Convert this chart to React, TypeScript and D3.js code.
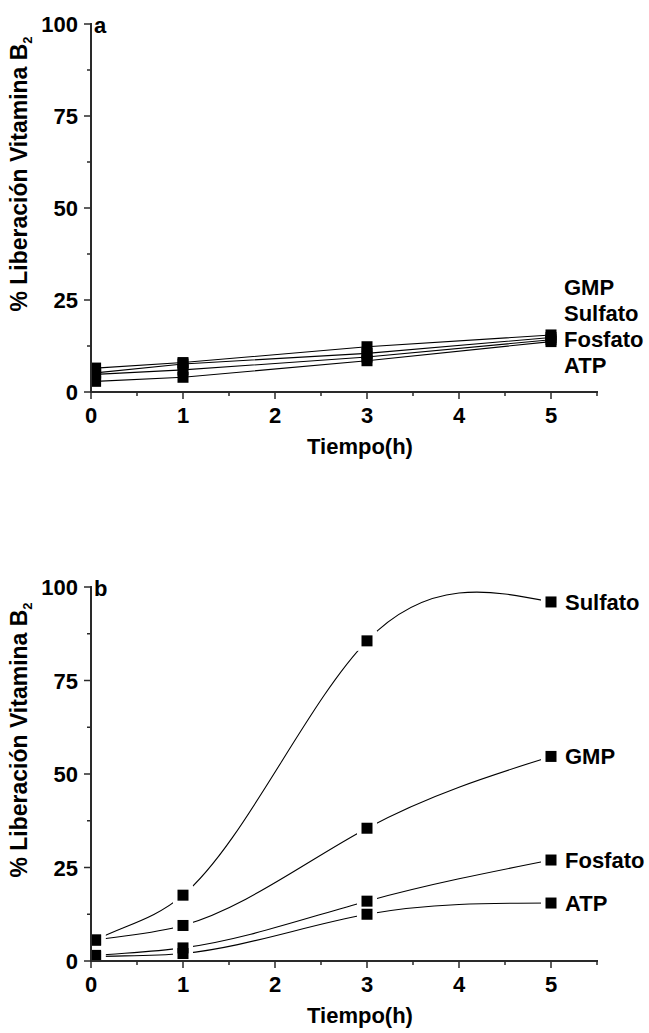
import React from "react";
import * as d3 from "d3";

const times = [0.05, 1, 3, 5];
const seriesNames = ["GMP", "Sulfato", "Fosfato", "ATP"];

// Panel a
const aGMP = [6.5, 8.0, 12.3, 15.5];
const aSulfato = [5.2, 7.6, 10.5, 14.8];
const aFosfato = [4.8, 6.0, 9.5, 14.2];
const aATP = [2.9, 4.0, 8.5, 13.7];

// Panel b
const bGMP = [5.6, 9.5, 35.5, 54.7];
const bSulfato = [5.6, 17.6, 85.6, 96.0];
const bFosfato = [1.5, 3.5, 16.0, 27.0];
const bATP = [1.2, 2.0, 12.5, 15.5];

const xTicks = [0, 1, 2, 3, 4, 5];
const yTicks = [0, 25, 50, 75, 100];
const xTitle = "Tiempo(h)";

const FONT = "'Liberation Sans', Arial, sans-serif";
const AX = "#2a2a2a";

type Series = { name: string; values: number[] };

// Cubic spline curve for d3.line: clamped (secant) start, natural end.
function curveSpline(context: any) {
  let xs: number[] = [];
  let ys: number[] = [];
  return {
    areaStart() {},
    areaEnd() {},
    lineStart() {
      xs = [];
      ys = [];
    },
    point(x: number, y: number) {
      xs.push(+x);
      ys.push(+y);
    },
    lineEnd() {
      const n = xs.length;
      if (n === 0) return;
      context.moveTo(xs[0], ys[0]);
      if (n === 1) return;
      const h: number[] = [];
      const dl: number[] = [];
      for (let i = 0; i < n - 1; i++) {
        h.push(xs[i + 1] - xs[i]);
        dl.push((ys[i + 1] - ys[i]) / h[i]);
      }
      if (n === 2) {
        context.lineTo(xs[1], ys[1]);
        return;
      }
      const a = new Array(n).fill(0);
      const b = new Array(n).fill(0);
      const c = new Array(n).fill(0);
      const d = new Array(n).fill(0);
      b[0] = 1;
      d[0] = dl[0];
      for (let i = 1; i < n - 1; i++) {
        a[i] = h[i];
        b[i] = 2 * (h[i - 1] + h[i]);
        c[i] = h[i - 1];
        d[i] = 3 * (h[i] * dl[i - 1] + h[i - 1] * dl[i]);
      }
      a[n - 1] = 1;
      b[n - 1] = 2;
      d[n - 1] = 3 * dl[n - 2];
      // Thomas algorithm
      for (let i = 1; i < n; i++) {
        const w = a[i] / b[i - 1];
        b[i] -= w * c[i - 1];
        d[i] -= w * d[i - 1];
      }
      const m = new Array(n).fill(0);
      m[n - 1] = d[n - 1] / b[n - 1];
      for (let i = n - 2; i >= 0; i--) m[i] = (d[i] - c[i] * m[i + 1]) / b[i];
      for (let i = 0; i < n - 1; i++) {
        const t = h[i] / 3;
        context.bezierCurveTo(xs[i] + t, ys[i] + m[i] * t, xs[i + 1] - t, ys[i + 1] - m[i + 1] * t, xs[i + 1], ys[i + 1]);
      }
    },
  };
}

function Panel({
  y0,
  y100,
  series,
  letter,
  smooth,
  halo,
  legendMode,
}: {
  y0: number;
  y100: number;
  series: Series[];
  letter: string;
  smooth: boolean;
  halo: boolean;
  legendMode: "stack" | "end";
}) {
  const x = d3.scaleLinear().domain([0, 5.5]).range([91, 597]);
  const y = d3.scaleLinear().domain([0, 100]).range([y0, y100]);
  const line = d3
    .line<number>()
    .x((_, i) => x(times[i]))
    .y((v) => y(v))
    .curve(smooth ? (curveSpline as any) : d3.curveLinear);
  const ms = 11;
  const xMinor = d3.range(0.5, 5.51, 1);
  const yMinor = d3.range(12.5, 100, 25);
  const midY = (y0 + y100) / 2 - 34;
  return (
    <g>
      {series.map((s) => (
        <path key={s.name} d={line(s.values) || ""} fill="none" stroke="#000" strokeWidth={1.1} />
      ))}
      {halo &&
        series.map((s) =>
          s.values.map((v, i) => (
            <rect key={s.name + "h" + i} x={x(times[i]) - 10} y={y(v) - 10} width={20} height={20} fill="#fff" />
          ))
        )}
      {series.map((s) =>
        s.values.map((v, i) => (
          <rect key={s.name + "m" + i} x={x(times[i]) - ms / 2} y={y(v) - ms / 2} width={ms} height={ms} fill="#000" />
        ))
      )}
      {/* axes */}
      <line x1={x(0)} x2={x(0)} y1={y(100) - 1} y2={y(0) + 1} stroke={AX} strokeWidth={2} />
      <line x1={x(0) - 1} x2={x(5.5) + 1} y1={y(0)} y2={y(0)} stroke={AX} strokeWidth={2} />
      {yTicks.map((t) => (
        <g key={"yt" + t}>
          <line x1={x(0) - 7} x2={x(0)} y1={y(t)} y2={y(t)} stroke={AX} strokeWidth={1.5} />
          <text x={78} y={y(t) + 8} textAnchor="end" fontFamily={FONT} fontWeight="bold" fontSize={22}>
            {t}
          </text>
        </g>
      ))}
      {yMinor.map((t) => (
        <line key={"ym" + t} x1={x(0) - 4} x2={x(0)} y1={y(t)} y2={y(t)} stroke={AX} strokeWidth={1.5} />
      ))}
      {xTicks.map((t) => (
        <g key={"xt" + t}>
          <line x1={x(t)} x2={x(t)} y1={y(0)} y2={y(0) + 7} stroke={AX} strokeWidth={1.5} />
          <text x={x(t)} y={y(0) + 31} textAnchor="middle" fontFamily={FONT} fontWeight="bold" fontSize={22}>
            {t}
          </text>
        </g>
      ))}
      {xMinor.map((t) => (
        <line key={"xm" + t} x1={x(t)} x2={x(t)} y1={y(0)} y2={y(0) + 4} stroke={AX} strokeWidth={1.5} />
      ))}
      <text x={360} y={y(0) + 62} textAnchor="middle" fontFamily={FONT} fontWeight="bold" fontSize={22}>
        {xTitle}
      </text>
      <text
        transform={`translate(27,${midY}) rotate(-90)`}
        textAnchor="middle"
        fontFamily={FONT}
        fontWeight="bold"
        fontSize={23}
      >
        % Liberación Vitamina B<tspan dy={5} fontSize={13}>2</tspan>
      </text>
      <text x={94} y={y(100) + 9} fontFamily={FONT} fontWeight="bold" fontSize={22}>
        {letter}
      </text>
      {legendMode === "stack" &&
        series.map((s, i) => (
          <text key={"lg" + s.name} x={564} y={y(0) - 97 + i * 26} fontFamily={FONT} fontWeight="bold" fontSize={22}>
            {s.name}
          </text>
        ))}
      {legendMode === "end" &&
        series.map((s) => (
          <text
            key={"lg" + s.name}
            x={565}
            y={y(s.values[s.values.length - 1]) + 8}
            fontFamily={FONT}
            fontWeight="bold"
            fontSize={22}
          >
            {s.name}
          </text>
        ))}
    </g>
  );
}

export default function App() {
  const aSeries: Series[] = [aGMP, aSulfato, aFosfato, aATP].map((v, i) => ({ name: seriesNames[i], values: v }));
  const bSeries: Series[] = [bGMP, bSulfato, bFosfato, bATP].map((v, i) => ({ name: seriesNames[i], values: v }));
  return (
    <svg
      width={649}
      height={1033}
      style={{ position: "absolute", left: 0, top: 0, background: "#fff" }}
    >
      <rect width={649} height={1033} fill="#fff" />
      <Panel y0={392} y100={24} series={aSeries} letter="a" smooth={false} halo={false} legendMode="stack" />
      <Panel y0={961} y100={587} series={bSeries} letter="b" smooth={true} halo={true} legendMode="end" />
    </svg>
  );
}
